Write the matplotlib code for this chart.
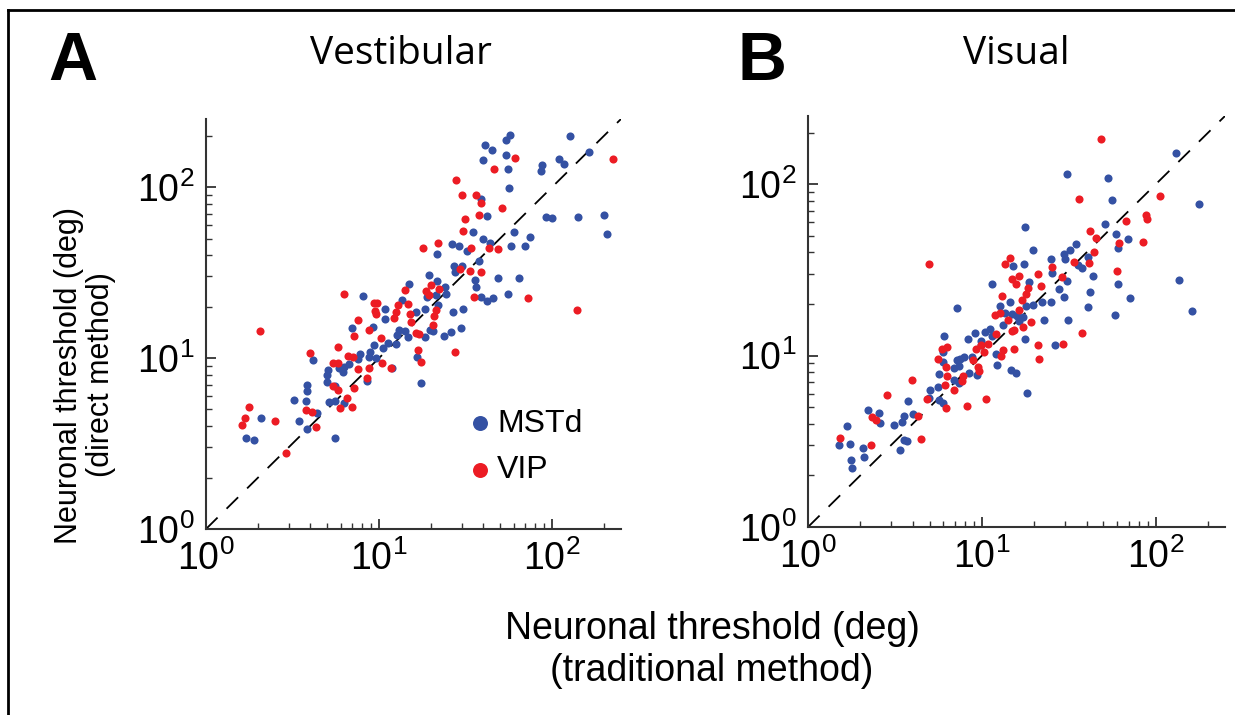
import numpy as np
import matplotlib.pyplot as plt
from matplotlib.lines import Line2D

# progi, zapisane jako log10(deg)
# A - Vestibular
vest_mstd_x = [1.754, 1.731, 1.610, 1.652, 1.731, 1.598, 1.744, 1.750, 2.104, 2.212,
               2.037, 2.069, 1.940, 1.933, 1.588, 1.623, 1.965, 1.998, 2.150, 2.300,
               2.317, 1.777, 1.873, 1.544, 1.598, 1.640, 1.763, 1.842, 1.423, 1.462,
               1.506, 1.335, 1.575, 1.431, 1.437, 1.481, 1.552, 1.560, 1.687, 1.808,
               1.588, 1.623, 1.656, 1.746, 1.288, 1.335, 1.173, 1.279, 1.329, 1.379,
               1.388, 1.342, 1.133, 1.037, 1.212, 1.267, 1.033, 1.429, 1.483, 1.471,
               1.417, 1.373, 1.292, 1.310, 1.267, 1.167, 1.150, 1.117, 1.102, 1.100,
               1.050, 1.025, 0.973, 0.950, 0.967, 0.908, 0.842, 0.888, 0.877, 0.985,
               0.942, 1.221, 1.244, 1.075, 0.933, 0.827, 0.796, 0.767, 0.790, 0.706,
               0.702, 0.700, 0.744, 0.710, 0.746, 0.800, 0.617, 0.585, 0.583, 0.508,
               0.579, 0.642, 0.540, 0.585, 0.315, 0.231, 0.277, 0.744]
vest_mstd_y = [2.302, 2.277, 2.246, 2.216, 2.187, 2.160, 2.105, 1.992, 2.298, 2.205,
               2.166, 2.135, 2.129, 2.092, 1.930, 1.832, 1.827, 1.817, 1.825, 1.838,
               1.725, 1.737, 1.710, 1.739, 1.698, 1.674, 1.653, 1.657, 1.667, 1.655,
               1.628, 1.608, 1.565, 1.536, 1.503, 1.536, 1.454, 1.415, 1.468, 1.468,
               1.357, 1.333, 1.353, 1.372, 1.483, 1.448, 1.431, 1.357, 1.366, 1.415,
               1.374, 1.312, 1.337, 1.287, 1.271, 1.287, 1.230, 1.267, 1.287, 1.175,
               1.154, 1.131, 1.164, 1.158, 1.125, 1.123, 1.158, 1.162, 1.135, 1.080,
               1.090, 1.057, 1.076, 1.033, 1.183, 1.365, 1.173, 1.025, 0.996, 1.002,
               1.008, 1.006, 0.852, 0.943, 0.867, 0.967, 0.947, 0.940, 0.916, 0.932,
               0.899, 0.860, 0.834, 0.745, 0.750, 0.737, 0.986, 0.842, 0.805, 0.754,
               0.749, 0.678, 0.632, 0.585, 0.647, 0.534, 0.519, 0.532]
vest_vip_x = [1.785, 1.665, 1.444, 1.479, 1.560, 1.587, 1.708, 1.577, 1.498, 1.485,
              2.350, 1.254, 1.340, 1.533, 1.635, 1.690, 1.469, 1.527, 1.587, 1.863,
              1.546, 2.142, 1.437, 1.300, 1.273, 1.290, 1.346, 1.150, 1.112, 1.169,
              1.088, 1.100, 1.177, 1.183, 1.331, 1.317, 1.312, 1.212, 1.233, 1.225,
              1.240, 1.012, 0.973, 0.988, 0.979, 0.985, 0.881, 0.940, 0.858, 0.800,
              0.823, 0.850, 0.763, 0.877, 0.942, 1.017, 1.069, 0.929, 0.733, 0.765,
              0.600, 0.731, 0.762, 0.856, 0.813, 0.844, 0.775, 0.575, 0.613, 0.638,
              0.310, 0.246, 0.223, 0.210, 0.396, 0.462]
vest_vip_y = [2.170, 2.107, 2.039, 1.951, 1.955, 1.904, 1.879, 1.834, 1.815, 1.743,
              2.162, 1.643, 1.673, 1.643, 1.641, 1.637, 1.520, 1.507, 1.505, 1.351,
              1.359, 1.283, 1.035, 1.429, 1.394, 1.366, 1.404, 1.396, 1.312, 1.318,
              1.236, 1.269, 1.259, 1.211, 1.283, 1.248, 1.195, 1.146, 1.142, 1.049,
              0.975, 1.115, 1.320, 1.322, 1.277, 1.255, 1.224, 1.164, 1.129, 1.376,
              1.014, 1.006, 1.064, 0.938, 0.942, 0.969, 0.942, 0.883, 0.973, 0.971,
              1.027, 0.834, 0.811, 0.823, 0.768, 0.712, 0.706, 0.694, 0.684, 0.596,
              1.160, 0.713, 0.649, 0.606, 0.632, 0.444]

# B - Visual
vis_mstd_x = [2.117, 1.489, 1.726, 1.747, 2.250, 1.706, 1.770, 1.839, 1.781, 1.250,
              1.296, 1.541, 1.505, 1.474, 1.480, 1.608, 1.555, 1.578, 1.637, 1.395,
              1.242, 1.179, 1.403, 1.271, 1.489, 1.060, 1.781, 2.131, 1.622, 1.441,
              1.474, 1.852, 1.612, 1.766, 2.211, 1.397, 1.344, 1.296, 1.161, 1.102,
              0.856, 1.255, 1.175, 1.202, 1.238, 1.213, 1.131, 1.123, 1.359, 1.497,
              1.246, 1.418, 1.083, 1.086, 1.165, 1.198, 1.259, 1.046, 1.015, 1.056,
              0.992, 0.958, 0.919, 0.992, 0.783, 0.777, 0.779, 0.854, 0.875, 0.898,
              0.841, 0.866, 0.944, 0.923, 0.973, 0.752, 0.837, 0.868, 0.745, 0.701,
              0.695, 0.752, 0.775, 0.576, 0.551, 0.603, 0.543, 0.495, 0.407, 0.415,
              0.345, 0.225, 0.177, 0.244, 0.317, 0.250, 0.255, 0.322, 0.553, 0.572,
              0.530]
vis_mstd_y = [2.183, 2.058, 2.037, 1.907, 1.883, 1.769, 1.707, 1.682, 1.629, 1.748,
              1.617, 1.654, 1.619, 1.592, 1.561, 1.577, 1.526, 1.509, 1.462, 1.565,
              1.532, 1.524, 1.480, 1.429, 1.435, 1.416, 1.419, 1.443, 1.373, 1.386,
              1.344, 1.338, 1.282, 1.235, 1.260, 1.313, 1.311, 1.297, 1.313, 1.287,
              1.278, 1.289, 1.243, 1.231, 1.227, 1.204, 1.247, 1.179, 1.208, 1.210,
              1.095, 1.060, 1.008, 0.948, 0.917, 0.901, 0.779, 1.157, 1.138, 1.115,
              1.085, 1.130, 1.095, 1.060, 1.115, 1.021, 0.965, 0.975, 0.983, 0.990,
              0.926, 0.942, 0.994, 0.899, 0.885, 0.893, 0.858, 0.839, 0.819, 0.798,
              0.755, 0.740, 0.722, 0.734, 0.649, 0.658, 0.610, 0.598, 0.664, 0.608,
              0.682, 0.590, 0.476, 0.482, 0.462, 0.388, 0.344, 0.410, 0.509, 0.503,
              0.449]
vis_vip_x = [1.687, 1.557, 2.025, 1.831, 1.942, 1.952, 1.624, 1.656, 1.789, 1.927,
             1.647, 1.618, 1.530, 1.405, 1.775, 1.463, 1.161, 1.131, 0.695, 1.211,
             1.175, 1.196, 1.324, 1.265, 1.251, 1.232, 1.340, 1.113, 1.211, 1.284,
             1.238, 1.148, 1.106, 1.073, 1.171, 1.186, 1.079, 1.033, 0.994, 0.964,
             1.012, 1.121, 1.111, 1.184, 1.324, 1.468, 1.576, 1.326, 0.768, 0.797,
             0.747, 0.791, 0.948, 0.977, 0.985, 0.800, 0.785, 0.891, 0.887, 0.837,
             0.685, 0.795, 0.916, 1.021, 0.597, 0.453, 0.631, 0.370, 0.390, 0.186,
             0.361, 0.647]
vis_vip_y = [2.264, 1.915, 1.934, 1.783, 1.823, 1.798, 1.728, 1.687, 1.658, 1.660,
             1.602, 1.538, 1.544, 1.518, 1.491, 1.458, 1.569, 1.532, 1.534, 1.466,
             1.445, 1.419, 1.474, 1.394, 1.357, 1.324, 1.408, 1.350, 1.266, 1.196,
             1.167, 1.206, 1.250, 1.235, 1.144, 1.148, 1.126, 1.066, 1.064, 1.041,
             1.023, 1.035, 1.000, 1.037, 1.064, 1.068, 1.134, 0.983, 1.039, 1.049,
             0.979, 0.932, 0.977, 0.934, 0.911, 0.882, 0.827, 0.883, 0.849, 0.798,
             0.746, 0.695, 0.707, 0.746, 0.858, 0.773, 0.645, 0.641, 0.623, 0.522,
             0.478, 0.515]

BLUE = '#3451a3'
RED = '#ec1c24'

W, H = 1235, 715
fig = plt.figure(figsize=(W / 100, H / 100), dpi=100)
axA = fig.add_axes([206 / W, 1 - 529 / H, 415 / W, 410 / H])
axB = fig.add_axes([808 / W, 1 - 527 / H, 417 / W, 411 / H])

panels = [
    (axA, vest_mstd_x, vest_mstd_y, vest_vip_x, vest_vip_y, 'Vestibular', 0.47, 39.5),
    (axB, vis_mstd_x, vis_mstd_y, vis_vip_x, vis_vip_y, 'Visual', 0.5, 37.5),
]

for ax, mx, my, vx, vy, title, tx, tpad in panels:
    ax.plot([1, 250], [1, 250], color='black', lw=1.3, ls=(0, (9, 7)), zorder=1)
    ax.scatter(10 ** np.array(mx), 10 ** np.array(my), s=34, color=BLUE,
               linewidths=0, label='MSTd', zorder=2)
    ax.scatter(10 ** np.array(vx), 10 ** np.array(vy), s=34, color=RED,
               linewidths=0, label='VIP', zorder=3)
    ax.set_xscale('log')
    ax.set_yscale('log')
    ax.set_xlim(1, 250)
    ax.set_ylim(1, 250)
    for side in ['top', 'right']:
        ax.spines[side].set_visible(False)
    for side in ['left', 'bottom']:
        ax.spines[side].set_color('#333333')
        ax.spines[side].set_linewidth(1.5)
    ax.tick_params(which='major', direction='in', length=7, width=1.3,
                   color='#333333', labelsize=27, pad=8)
    ax.tick_params(which='minor', direction='in', length=4, width=1.0,
                   color='#333333')
    for lab in ax.get_xticklabels() + ax.get_yticklabels():
        lab.set_fontfamily('Liberation Sans')
    ax.set_title(title, fontsize=28, family='Open Sans', pad=tpad, x=tx)

fig.text(48 / W, 1 - 80 / H, 'A', fontsize=49, fontweight='bold',
         family='Liberation Sans', va='baseline', ha='left')
fig.text(738 / W, 1 - 80 / H, 'B', fontsize=49, fontweight='bold',
         family='Liberation Sans', va='baseline', ha='left')

axA.legend(loc='center left', bbox_to_anchor=(0.59, 0.2), frameon=False,
           prop={'family': 'Liberation Sans', 'size': 23}, markerscale=1.85,
           handletextpad=0.15, labelspacing=0.53, handlelength=0.8, borderpad=0)

fig.text(85 / W, 1 - 375 / H, 'Neuronal threshold (deg)\n(direct method)',
         rotation=90, ha='center', va='center', fontsize=22,
         family='Liberation Sans', linespacing=1.1)
fig.text(712 / W, 1 - 650 / H, 'Neuronal threshold (deg)\n(traditional method)',
         ha='center', va='center', fontsize=27, family='Liberation Sans',
         linespacing=1.2)

# ramka wokol rysunku
fig.add_artist(Line2D([8 / W, 8 / W], [0, 1 - 10 / H], transform=fig.transFigure,
                      color='black', lw=2))
fig.add_artist(Line2D([8 / W, 1], [1 - 10 / H, 1 - 10 / H], transform=fig.transFigure,
                      color='black', lw=2))

fig.savefig('out.png', dpi=100)
